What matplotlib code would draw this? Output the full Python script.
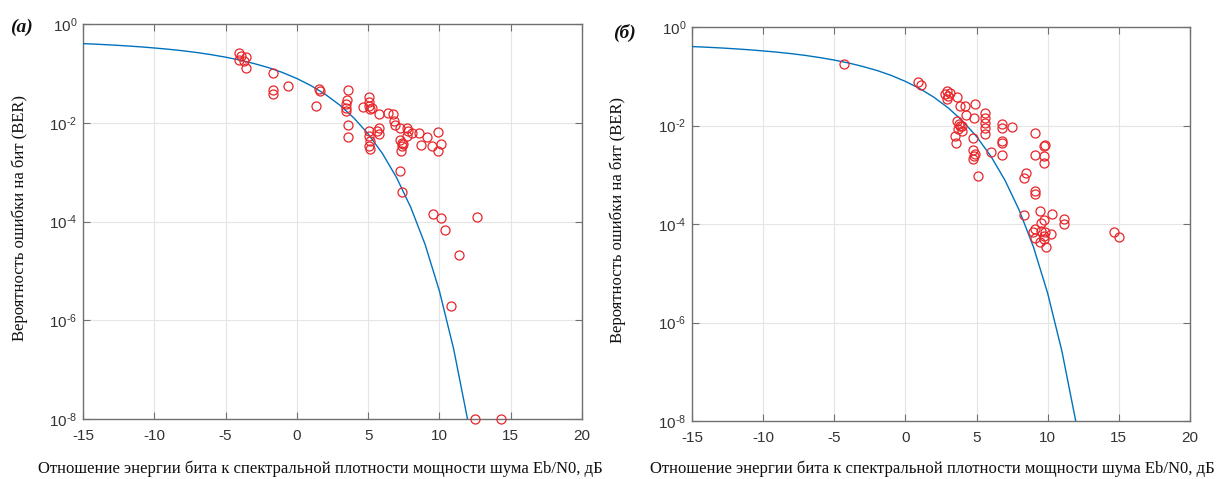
import matplotlib
matplotlib.use("Agg")
import matplotlib.pyplot as plt
import numpy as np

# ---------------- data ----------------
curve_ebn0 = [-15, -14, -13, -12, -11, -10, -9, -8, -7, -6, -5, -4, -3, -2, -1,
              0, 1, 2, 3, 4, 5, 6, 7, 8, 9, 10, 11, 12]
curve_ber = [0.401, 0.389, 0.376, 0.361, 0.345, 0.327, 0.308, 0.287, 0.264, 0.239,
             0.213, 0.186, 0.158, 0.131, 0.104, 0.0786, 0.0563, 0.0375, 0.0229,
             0.0125, 0.00595, 0.00239, 7.7e-4, 1.9e-4, 3.4e-5, 3.9e-6, 2.6e-7, 9.0e-9]

a_ebn0 = [-4.03, -3.95, -3.55, -3.68, -4.09, -3.6, -1.67, -1.67, -1.67, -0.59,
          1.56, 1.6, 1.37, 3.57, 3.49, 3.44, 3.44, 3.47, 3.57, 3.57,
          4.65, 5.05, 5.05, 5.05, 5.13, 5.3, 5.73, 5.05, 5.05, 5.13, 5.05, 5.13,
          5.73, 5.6, 5.73, 6.4, 6.75, 6.8, 6.88, 7.2, 7.2, 7.34, 7.34, 7.28, 7.45,
          7.74, 7.8, 7.74, 8.1, 8.55, 8.68, 9.14, 9.9, 9.49, 9.9, 10.1,
          7.2, 7.34, 9.54, 10.1, 10.37, 12.66, 11.37, 10.83, 12.5, 14.33]
a_logber = [-0.59, -0.645, -0.66, -0.74, -0.73, -0.89, -1.0, -1.33, -1.41, -1.25,
            -1.32, -1.35, -1.67, -1.33, -1.53, -1.63, -1.70, -1.77, -2.05, -2.28,
            -1.69, -1.47, -1.57, -1.66, -1.73, -1.70, -1.83, -2.17, -2.27, -2.37, -2.47, -2.54,
            -2.1, -2.17, -2.22, -1.8, -1.83, -1.97, -2.04, -2.1, -2.34, -2.4, -2.47, -2.57, -2.43,
            -2.1, -2.17, -2.27, -2.2, -2.2, -2.46, -2.28, -2.18, -2.48, -2.57, -2.43,
            -2.98, -3.4, -3.85, -3.92, -4.17, -3.9, -4.68, -5.72, -8.0, -8.0]

b_ebn0 = [-4.3, 0.85, 1.1, 2.79, 3.02, 2.9, 3.14, 2.95,
          3.65, 3.84, 4.19, 4.26, 4.88, 4.84,
          5.58, 5.58, 5.58, 5.58, 5.58,
          3.6, 3.84, 3.72, 3.95, 3.5, 3.56, 3.75, 4.0,
          4.77, 4.77, 4.84, 4.77, 4.9, 5.1, 6.0,
          6.78, 6.78, 7.47, 6.8, 6.8, 6.8,
          9.13, 9.77, 9.8, 9.13, 9.77, 9.77,
          8.3, 8.5, 9.13, 9.13,
          8.3, 9.49, 10.33, 9.77, 9.55, 11.16, 11.16,
          8.94, 9.13, 9.55, 9.82, 10.2, 9.47, 9.74, 9.74, 9.9, 9.13,
          14.68, 15.03]
b_logber = [-0.75, -1.12, -1.17, -1.37, -1.41, -1.47, -1.34, -1.30,
            -1.43, -1.61, -1.61, -1.78, -1.56, -1.84,
            -1.74, -1.84, -1.95, -2.05, -2.18,
            -1.91, -2.01, -2.08, -2.11, -2.22, -2.35, -1.97, -2.0,
            -2.25, -2.49, -2.62, -2.69, -2.58, -3.02, -2.53,
            -1.96, -2.05, -2.04, -2.32, -2.35, -2.6,
            -2.15, -2.42, -2.40, -2.59, -2.62, -2.76,
            -3.06, -2.96, -3.33, -3.40,
            -3.82, -3.73, -3.80, -3.91, -3.98, -3.90, -4.01,
            -4.17, -4.28, -4.15, -4.17, -4.20, -4.37, -4.31, -4.25, -4.46, -4.11,
            -4.16, -4.27]

x_ticks = [-15, -10, -5, 0, 5, 10, 15, 20]
y_ticks = [1e0, 1e-2, 1e-4, 1e-6, 1e-8]
y_ticklabels = [r"$10^{0}$", r"$10^{\text{-}2}$", r"$10^{\text{-}4}$",
                r"$10^{\text{-}6}$", r"$10^{\text{-}8}$"]

panel_labels = ["(a)", "(б)"]
ylabel_text = "Вероятность ошибки на бит (BER)"
xlabel_text = "Отношение энергии бита к спектральной плотности мощности шума Eb/N0, дБ"

# ---------------- style ----------------
plt.rcParams['font.family'] = ['Liberation Sans', 'DejaVu Sans']
plt.rcParams['mathtext.fontset'] = 'custom'
plt.rcParams['mathtext.rm'] = 'Liberation Sans'
plt.rcParams['mathtext.it'] = 'Liberation Sans:italic'
plt.rcParams['mathtext.default'] = 'regular'
plt.rcParams['axes.unicode_minus'] = False

W, H = 1217, 479
fig = plt.figure(figsize=(W / 100, H / 100), dpi=100)

def px_rect(l, t, r, b):
    return [l / W, 1 - b / H, (r - l) / W, (b - t) / H]

axes_boxes = [px_rect(83, 24, 582, 419), px_rect(692, 27, 1190, 421)]
data = [(a_ebn0, a_logber), (b_ebn0, b_logber)]
spine_col = '#707070'
tick_col = '#333333'
serif = ['Liberation Serif', 'DejaVu Serif']

for i, (box, (xs, ls)) in enumerate(zip(axes_boxes, data)):
    ax = fig.add_axes(box)
    ax.set_yscale('log')
    ax.set_xlim(-15, 20)
    ax.set_ylim(1e-8, 1e0)
    ax.plot(curve_ebn0, curve_ber, color='#0072BD', lw=1.0, zorder=3)
    ax.plot(xs, [10 ** v for v in ls], linestyle='none', marker='o', markersize=6.5,
            markerfacecolor='none', markeredgecolor='#e8262a', markeredgewidth=0.9,
            clip_on=False, zorder=4)
    ax.set_xticks(x_ticks)
    ax.set_xticklabels([str(t) for t in x_ticks])
    ax.set_yticks(y_ticks)
    ax.set_yticklabels(y_ticklabels)
    ax.yaxis.set_minor_locator(matplotlib.ticker.NullLocator())
    ax.grid(True, which='major', color='#e5e5e5', lw=0.8)
    ax.set_axisbelow(True)
    for s in ax.spines.values():
        s.set_color(spine_col)
        s.set_linewidth(1.0)
    ax.tick_params(axis='both', which='both', direction='in', top=True, right=True,
                   length=5, width=0.8, color=spine_col, labelcolor=tick_col,
                   labelsize=11)
    ax.tick_params(axis='x', pad=7)
    ax.tick_params(axis='y', pad=4)

# y labels
fig.text(20 / W, 1 - 218 / H, ylabel_text, rotation=90, ha='center', va='center',
         family=serif, fontsize=12, color='#111111')
fig.text(618 / W, 1 - 220 / H, ylabel_text, rotation=90, ha='center', va='center',
         family=serif, fontsize=12, color='#111111')
# x labels
fig.text(320 / W, 1 - 469 / H, xlabel_text, ha='center', va='center',
         family=serif, fontsize=12, color='#111111')
fig.text(932 / W, 1 - 469 / H, xlabel_text, ha='center', va='center',
         family=serif, fontsize=12, color='#111111')
# panel labels
fig.text(21 / W, 1 - 27 / H, panel_labels[0], ha='center', va='center',
         family=serif, fontsize=14, fontweight='bold', fontstyle='italic', color='#111111')
fig.text(624 / W, 1 - 33 / H, panel_labels[1], ha='center', va='center',
         family=serif, fontsize=14, fontweight='bold', fontstyle='italic', color='#111111')

fig.savefig('out.png', dpi=100)
